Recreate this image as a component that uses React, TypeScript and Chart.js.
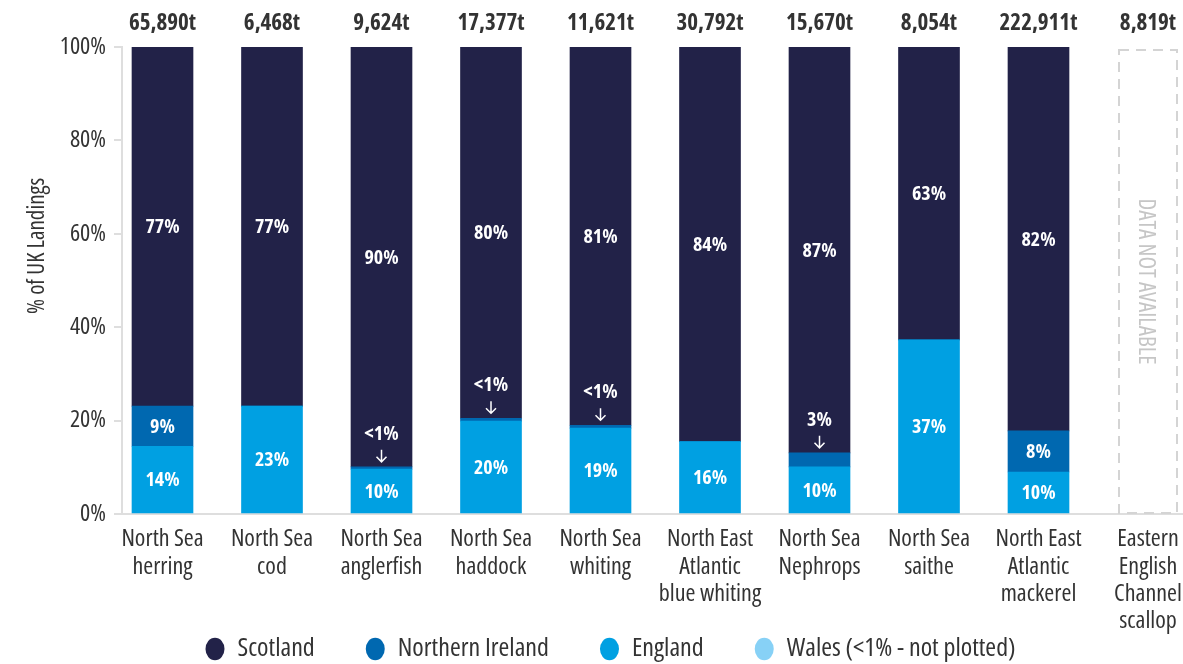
import React, { useEffect, useRef } from "react";
import { Chart, registerables } from "chart.js";

Chart.register(...registerables);

const FAMILY = '"Open Sans", "DejaVu Sans Condensed", sans-serif';
const STRETCH = "condensed";

const categories: string[][] = [
  ["North Sea", "herring"],
  ["North Sea", "cod"],
  ["North Sea", "anglerfish"],
  ["North Sea", "haddock"],
  ["North Sea", "whiting"],
  ["North East", "Atlantic", "blue whiting"],
  ["North Sea", "Nephrops"],
  ["North Sea", "saithe"],
  ["North East", "Atlantic", "mackerel"],
  ["Eastern", "English", "Channel", "scallop"],
];

const tonnage = ["65,890t", "6,468t", "9,624t", "17,377t", "11,621t", "30,792t", "15,670t", "8,054t", "222,911t", "8,819t"];

const england: (number | null)[] = [14.5, 23.1, 9.6, 19.9, 18.4, 15.5, 10.1, 37.3, 9.0, null];
const northernIreland: (number | null)[] = [8.6, 0, 0.5, 0.6, 0.6, 0, 3.0, 0, 8.8, null];
const scotland: (number | null)[] = [76.9, 76.9, 89.9, 79.5, 81.0, 84.5, 86.9, 62.7, 82.2, null];
const wales: (number | null)[] = [null, null, null, null, null, null, null, null, null, null];

const englandLabels = ["14%", "23%", "10%", "20%", "19%", "16%", "10%", "37%", "10%", ""];
const niLabels = ["9%", "", "<1%", "<1%", "<1%", "", "3%", "", "8%", ""];
const scotlandLabels = ["77%", "77%", "90%", "80%", "81%", "84%", "87%", "63%", "82%", ""];

const yTicks = [0, 20, 40, 60, 80, 100];
const notAvailableIndex = 9;
const notAvailableText = "DATA NOT AVAILABLE";
const yTitle = "% of UK Landings";

const C_SCOT = "#222248";
const C_NI = "#0068b0";
const C_ENG = "#00a0e2";
const C_WALES = "#87d1f6";
const C_TEXT = "#333333";
const C_AXIS = "#dedede";

const W = 1221;
const LEFT = 122;
const STEP = 109.5;
const PLOT_BOTTOM = 514;
const X_MIN = -(162.5 - LEFT) / STEP;
const X_MAX = X_MIN + (W - LEFT) / STEP;
const X_AXIS_H = 120;
const LEGEND_FONT = 26;
const LEGEND_PAD = 51;
const LEGEND_Y = 649;
const H = PLOT_BOTTOM + X_AXIS_H + LEGEND_FONT + LEGEND_PAD + 10;

const cf = (size: number, bold = false) =>
  `normal ${bold ? "bold " : ""}${STRETCH} ${size}px ${FAMILY}`;

const toPoints = (arr: (number | null)[]) => arr.map((v, i) => ({ x: i, y: v }));

const overlayPlugin = {
  id: "overlay",
  afterLayout(chart: any) {
    const lg = chart.legend;
    if (!lg) return;
    const cur = lg.top + LEGEND_PAD + LEGEND_FONT / 2;
    const dy = LEGEND_Y - cur;
    lg.top += dy;
    lg.bottom += dy;
  },
  beforeDatasetsDraw(chart: any) {
    const { ctx } = chart;
    const xs = chart.scales.x;
    const ys = chart.scales.y;
    const cx = xs.getPixelForValue(notAvailableIndex);
    ctx.save();
    ctx.strokeStyle = "#d4d4d4";
    ctx.lineWidth = 2;
    ctx.setLineDash([10, 7]);
    const top = ys.getPixelForValue(100) + 3;
    const bot = ys.getPixelForValue(0) - 1;
    ctx.strokeRect(cx - 29, top, 58, bot - top);
    ctx.setLineDash([]);
    ctx.translate(cx - 2, (top + bot) / 2);
    ctx.rotate(Math.PI / 2);
    ctx.fillStyle = "#c6c6c6";
    ctx.font = cf(23);
    ctx.textAlign = "center";
    ctx.textBaseline = "middle";
    ctx.fillText(notAvailableText, 0, 0);
    ctx.restore();
  },
  afterDatasetsDraw(chart: any) {
    const { ctx } = chart;
    const xs = chart.scales.x;
    ctx.save();
    ctx.textAlign = "center";
    ctx.textBaseline = "middle";
    ctx.font = cf(23, true);
    ctx.fillStyle = C_TEXT;
    tonnage.forEach((t, i) => ctx.fillText(t, xs.getPixelForValue(i), 23));
    ctx.save();
    ctx.translate(37, 246);
    ctx.rotate(-Math.PI / 2);
    ctx.font = cf(23);
    ctx.fillStyle = C_TEXT;
    ctx.fillText(yTitle, 0, 0);
    ctx.restore();
    const segLabels = [englandLabels, niLabels, scotlandLabels];
    const segValues = [england, northernIreland, scotland];
    ctx.font = cf(20, true);
    ctx.fillStyle = "#ffffff";
    ctx.strokeStyle = "#ffffff";
    for (let di = 0; di < 3; di++) {
      const meta = chart.getDatasetMeta(di);
      meta.data.forEach((bar: any, i: number) => {
        const txt = segLabels[di][i];
        const val = segValues[di][i];
        if (!txt || val == null) return;
        const p = bar.getProps(["x", "y", "base"], true);
        if (!isFinite(p.y) || !isFinite(p.base)) return;
        if (val < 5) {
          const ty = p.y - 33;
          ctx.fillText(txt, p.x, ty);
          ctx.lineWidth = 1.5;
          ctx.beginPath();
          ctx.moveTo(p.x, ty + 16);
          ctx.lineTo(p.x, ty + 28);
          ctx.moveTo(p.x - 5, ty + 23);
          ctx.lineTo(p.x, ty + 28);
          ctx.lineTo(p.x + 5, ty + 23);
          ctx.stroke();
        } else {
          ctx.fillText(txt, p.x, (p.y + p.base) / 2 + 1);
        }
      });
    }
    ctx.restore();
  },
};

const legendOrder = [2, 1, 0, 3];

export default function App() {
  const ref = useRef<HTMLCanvasElement | null>(null);
  useEffect(() => {
    if (!ref.current) return;
    const chart = new Chart(ref.current, {
      type: "bar",
      data: {
        datasets: [
          { label: "England", data: toPoints(england) as any, backgroundColor: C_ENG, barThickness: 61 },
          { label: "Northern Ireland", data: toPoints(northernIreland) as any, backgroundColor: C_NI, barThickness: 61 },
          { label: "Scotland", data: toPoints(scotland) as any, backgroundColor: C_SCOT, barThickness: 61 },
          { label: "Wales (<1% - not plotted)", data: toPoints(wales) as any, backgroundColor: C_WALES, barThickness: 61 },
        ],
      },
      options: {
        responsive: false,
        animation: false,
        layout: { autoPadding: false, padding: { top: 47, left: 0, right: 0, bottom: 0 } },
        plugins: {
          tooltip: { enabled: false },
          legend: {
            position: "bottom",
            labels: {
              usePointStyle: true,
              pointStyle: "circle",
              boxHeight: 16,
              pointStyleWidth: 19,
              padding: LEGEND_PAD,
              color: C_TEXT,
              font: { family: FAMILY, size: LEGEND_FONT, weight: STRETCH as any },
              sort: (a: any, b: any) => legendOrder.indexOf(a.datasetIndex) - legendOrder.indexOf(b.datasetIndex),
            },
          },
        },
        scales: {
          x: {
            type: "linear",
            stacked: true,
            offset: false,
            min: X_MIN,
            max: X_MAX,
            afterBuildTicks: (s: any) => {
              s.ticks = categories.map((_, i) => ({ value: i }));
            },
            afterFit: (s: any) => {
              s.height = X_AXIS_H;
              s.paddingLeft = 0;
              s.paddingRight = 0;
            },
            grid: { display: false, drawTicks: false },
            border: { display: true, color: C_AXIS, width: 2 },
            ticks: {
              autoSkip: false,
              maxRotation: 0,
              minRotation: 0,
              padding: 12,
              color: C_TEXT,
              font: { family: FAMILY, size: 24, weight: STRETCH as any, lineHeight: 1.13 },
              callback: (v: any) => categories[Math.round(Number(v))] ?? "",
            },
          },
          y: {
            stacked: true,
            min: 0,
            max: 100,
            afterFit: (s: any) => {
              s.width = LEFT;
              s.paddingTop = 0;
              s.paddingBottom = 0;
            },
            afterBuildTicks: (s: any) => {
              s.ticks = yTicks.map((v) => ({ value: v }));
            },
            grid: { drawOnChartArea: false, tickLength: 8, color: C_AXIS, lineWidth: 2 },
            border: { display: true, color: C_AXIS, width: 2 },
            ticks: {
              padding: 8,
              color: C_TEXT,
              font: { family: FAMILY, size: 24, weight: STRETCH as any },
              callback: (v: any) => `${v}%`,
            },
          },
        },
      },
      plugins: [overlayPlugin],
    });
    return () => chart.destroy();
  }, []);
  return (
    <div style={{ position: "absolute", left: 0, top: 0, width: 1183, height: 664, overflow: "hidden", background: "#fff" }}>
      <canvas ref={ref} width={W} height={H} style={{ width: W, height: H, display: "block" }} />
    </div>
  );
}
